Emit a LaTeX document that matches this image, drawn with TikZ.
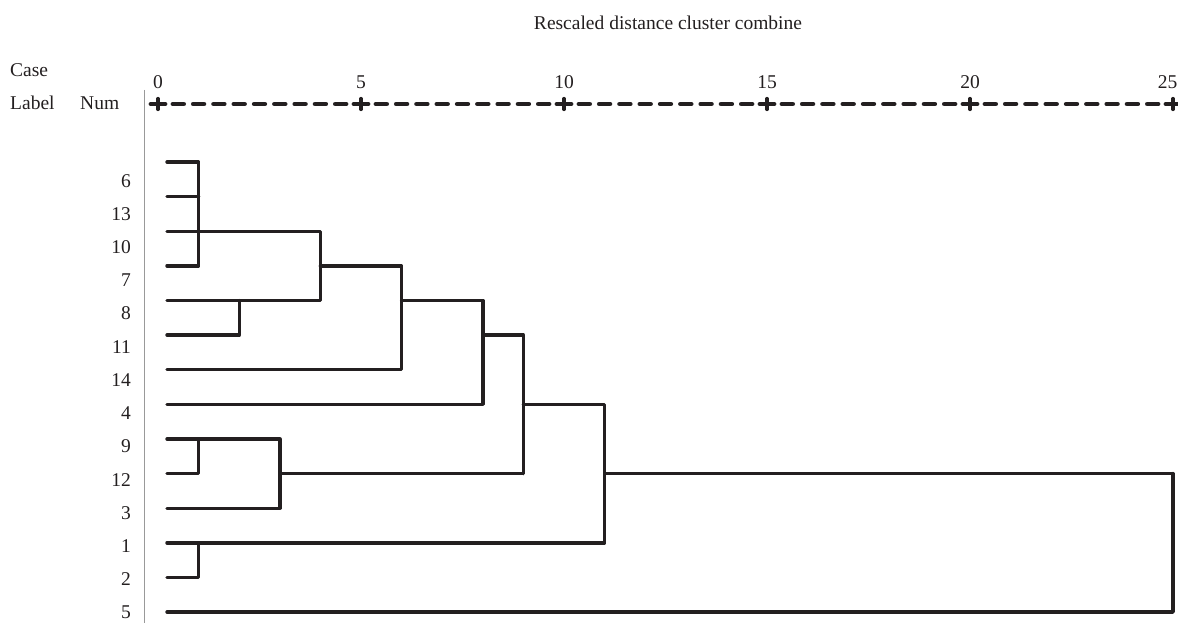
\documentclass[tikz,border=0pt]{standalone}
\usepackage{fontspec}
\setmainfont{Liberation Serif}
\definecolor{ink}{HTML}{231F20}
\begin{document}
\begin{tikzpicture}[x=1pt,y=-1pt,
  lbl/.style={font=\fontsize{19.5}{22}\selectfont, inner sep=0pt, text=ink},
  tree/.style={line width=3.4pt, line join=round, line cap=round, draw=ink},
  treethin/.style={line width=2.3pt, line join=round, line cap=round, draw=ink},
  axisdash/.style={line width=4.8pt, line cap=round, draw=ink},
  tickbar/.style={line width=3.2pt, line cap=round, draw=ink}]
\useasboundingbox (0,0) rectangle (1178,623);

% title and headers
\node[lbl, anchor=base] (title) at (668,30) {Rescaled distance cluster combine};
\node[lbl, anchor=base west] (case) at (10,77) {Case};
\node[lbl, anchor=base west] (label) at (10,110) {Label};
\node[lbl, anchor=base west] (num) at (80,110) {Num};

% gray separator
\coordinate (sepTop) at (144,90);
\coordinate (sepBot) at (144,623);
\draw[gray!80, line width=0.9pt] (sepTop) -- (sepBot);

% axis
\foreach \v in {0,5,...,20} {
  \pgfmathsetmacro{\tx}{158+40.6*\v}
  \node[lbl, anchor=base] (ax\v) at (\tx,89) {\v};
}
\node[lbl, anchor=base east] (ax25) at (1177.5,89) {25};
\foreach \v in {0,5,...,25} {
  \pgfmathsetmacro{\tx}{158+40.6*\v}
  \draw[axisdash] (\tx-7,104) -- (\tx+7,104);
  \draw[tickbar] (\tx,98.5) -- (\tx,109.5);
}
\foreach \k in {0,...,4} {
  \foreach \j in {1,...,9} {
    \pgfmathsetmacro{\cx}{158+203*\k+20.3*\j}
    \draw[axisdash] (\cx-5.3,104) -- (\cx+5.3,104);
  }
}

% case labels
\foreach \lab [count=\i from 0] in {6,13,10,7,8,11,14,4,9,12,3,1,2,5} {
  \node[lbl, anchor=base east] (c\lab) at (131,{187+33.23*\i}) {\lab};
}

% leaves and merge levels
\foreach \i in {0,...,13} \coordinate (L\i) at (167,{162+34.62*\i});
\foreach \v in {1,2,3,4,6,8,9,11,25} \coordinate (V\v) at ({158+40.6*\v},0);

\draw[tree] (L0) -- (L0 -| V1) -- (L3 -| V1) -- (L3);
\draw[tree] (L1) -- (L1 -| V1);
\draw[tree] (L2) -- (L2 -| V4) -- (L4 -| V4) -- (L4);
\draw[tree] (L5) -- (L5 -| V2) -- (L4 -| V2);
\draw[tree] (L3 -| V4) -- (L3 -| V6) -- (L6 -| V6) -- (L6);
\draw[tree] (L4 -| V6) -- (L4 -| V8) -- (L7 -| V8) -- (L7);
\draw[tree] (L5 -| V8) -- (L5 -| V9) -- (L9 -| V9);
\draw[tree] (L8) -- (L8 -| V3) -- (L10 -| V3) -- (L10);
\draw[tree] (L8 -| V1) -- (L9 -| V1) -- (L9);
\draw[treethin] (L9 -| V3) -- (L9 -| V9);
\draw[tree] (L7 -| V9) -- (L7 -| V11) -- (L11 -| V11) -- (L11);
\draw[tree] (L11 -| V1) -- (L12 -| V1) -- (L12);
\draw[treethin] (L9 -| V11) -- (L9 -| V25);
\draw[tree] (L9 -| V25) -- (L13 -| V25) -- (L13);
\end{tikzpicture}
\end{document}
